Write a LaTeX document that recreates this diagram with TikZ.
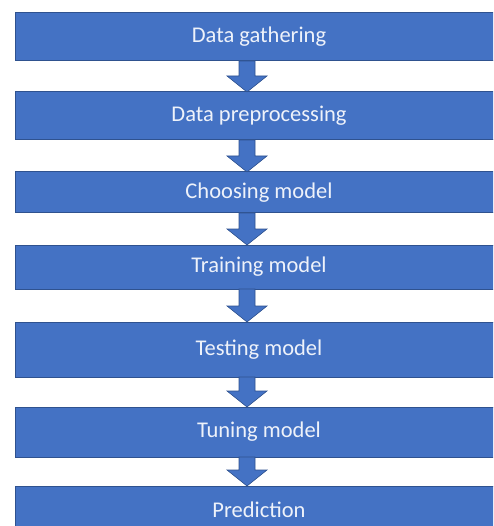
\documentclass[tikz,border=0pt]{standalone}
\usepackage{fontspec}
\setmainfont{Carlito}
\usetikzlibrary{calc}
\definecolor{boxblue}{HTML}{4472C4}
\definecolor{boxedge}{HTML}{2F528F}
\definecolor{txt}{HTML}{EEF2FA}
\tikzset{
  stepbox/.style={fill=boxblue, draw=boxedge, line width=1pt, inner sep=0pt},
  flowarr/.style={fill=boxblue, draw=boxedge, line width=0.6pt, line join=miter},
  lbl/.style={text=txt, font=\fontsize{22.5}{25}\selectfont, inner sep=0pt}
}
\newcommand\mkbox[5]{% name, top y, bottom y, text y, text
  \path[stepbox] (15pt,-#2pt) rectangle (503pt,-#3pt);
  \coordinate (#1nw) at (15pt,-#2pt);
  \coordinate (#1sw) at (15pt,-#3pt);
  \node[lbl] (#1) at (259pt,-#4pt) {#5};
}
\newcommand\mkarrow[2]{% from box, to box
  \draw[flowarr] let \p1=(#1sw), \p2=(#2nw) in
    (\x1+224pt,\y1) -- (\x1+240pt,\y1) -- (\x1+240pt,\y2+16pt) -- (\x1+252pt,\y2+16pt)
    -- (\x1+232pt,\y2) -- (\x1+212pt,\y2+16pt) -- (\x1+224pt,\y2+16pt) -- cycle;
}
\begin{document}
\begin{tikzpicture}[x=1pt,y=1pt]
\useasboundingbox[fill=white] (0,0) rectangle (493,-526);
\begin{scope}
\clip (0,0) rectangle (493,-526);
\mkbox{b1}{13}{61}{37}{Data gathering}
\mkbox{b2}{92}{140}{116}{Data preprocessing}
\mkbox{b3}{172}{213}{192.5}{Choosing model}
\mkbox{b4}{245}{289}{267}{Training model}
\mkbox{b5}{322}{377}{349.5}{Testing model}
\mkbox{b6}{407}{457}{432}{Tuning model}
\mkbox{b7}{486}{545}{510}{Prediction}
\mkarrow{b1}{b2}
\mkarrow{b2}{b3}
\mkarrow{b3}{b4}
\mkarrow{b4}{b5}
\mkarrow{b5}{b6}
\mkarrow{b6}{b7}
\end{scope}
\end{tikzpicture}
\end{document}
